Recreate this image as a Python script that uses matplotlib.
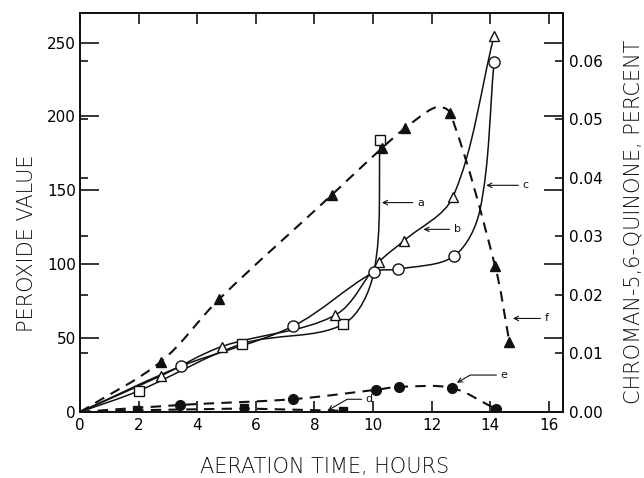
import numpy as np
import matplotlib
matplotlib.use("Agg")
import matplotlib.pyplot as plt
from matplotlib.path import Path
from matplotlib.patches import PathPatch

# ---------------- data ----------------
# peroxide value curves (left axis)
time_a = [0, 2.0, 5.54, 8.99, 10.03, 10.24]
peroxide_a = [0, 14.3, 46.2, 59.5, 95.0, 183.8]
marks_a = [1, 2, 3, 5]

time_b = [0, 2.75, 4.84, 8.70, 10.2, 11.06, 12.72, 14.13]
peroxide_b = [0, 24.4, 44.3, 65.5, 101.5, 116.0, 145.4, 254.6]
marks_b = [1, 2, 3, 4, 5, 6, 7]

time_c = [0, 3.45, 7.26, 10.03, 10.86, 12.76, 13.65, 14.13]
peroxide_c = [0, 31.0, 58.0, 94.7, 96.6, 105.5, 137.0, 237.0]
marks_c = [1, 2, 3, 4, 5, 7]

# chroman-5,6-quinone curves (right axis, percent)
time_d = [0, 1.95, 5.6, 8.96]
quinone_d = [0, 0.0003, 0.0006, 0.0002]
marks_d = [1, 2, 3]

time_e = [0, 3.41, 7.28, 10.1, 10.9, 12.69, 14.2]
quinone_e = [0, 0.0012, 0.0022, 0.0038, 0.0043, 0.0041, 0.0005]
marks_e = [1, 2, 3, 4, 5, 6]

time_f = [0, 2.76, 4.75, 8.59, 10.3, 11.09, 12.15, 12.63, 14.16, 14.65]
quinone_f = [0, 0.0086, 0.0193, 0.0371, 0.0451, 0.0485, 0.0521, 0.0511, 0.0250, 0.0120]
marks_f = [1, 2, 3, 4, 5, 7, 8, 9]

x_ticks = [0, 2, 4, 6, 8, 10, 12, 14, 16]
left_ticks = [0, 50, 100, 150, 200, 250]
right_ticks = [0.00, 0.01, 0.02, 0.03, 0.04, 0.05, 0.06]
right_labels = ["0.00", "0.01", "0.02", "0.03", "0.04", "0.05", "0.06"]

# ---------------- figure ----------------
plt.rcParams['font.family'] = ['DejaVu Sans']
fig = plt.figure(figsize=(6.44, 4.78), dpi=100)
fig.subplots_adjust(left=80/644, right=563/644, top=1-13/478, bottom=1-412/478)
ax = fig.add_subplot(111)
ax2 = ax.twinx()

ax.set_xlim(0, 16.48)
ax.set_ylim(0, 270)
ax2.set_ylim(0, 0.0682)

for a_ in (ax, ax2):
    for s in a_.spines.values():
        s.set_linewidth(1.3)
        s.set_color('#111111')


def smooth(axis, xs, ys, **kw):
    """Smooth curve through the given points (chord-length scaled cubic Hermite)."""
    pts = axis.transData.transform(np.column_stack([xs, ys]))
    n = len(pts)
    d = np.linalg.norm(np.diff(pts, axis=0), axis=1)
    tang = np.zeros_like(pts)
    for i in range(n):
        if i == 0:
            tang[i] = (pts[1] - pts[0]) / d[0]
        elif i == n - 1:
            tang[i] = (pts[-1] - pts[-2]) / d[-1]
        else:
            tang[i] = (pts[i + 1] - pts[i - 1]) / (d[i - 1] + d[i])
    verts = [pts[0]]
    codes = [Path.MOVETO]
    for i in range(n - 1):
        c1 = pts[i] + tang[i] * d[i] / 3.0
        c2 = pts[i + 1] - tang[i + 1] * d[i] / 3.0
        verts += [c1, c2, pts[i + 1]]
        codes += [Path.CURVE4] * 3
    verts = axis.transData.inverted().transform(np.array(verts))
    axis.add_patch(PathPatch(Path(verts, codes), fill=False, transform=axis.transData, **kw))


solid = dict(color='#111111', lw=1.1)
dashed = dict(color='#111111', lw=1.5, linestyle=(0, (5, 3.5)))

smooth(ax, time_a, peroxide_a, **solid)
smooth(ax, time_b, peroxide_b, **solid)
smooth(ax, time_c, peroxide_c, **solid)
smooth(ax2, time_e, quinone_e, **dashed)
smooth(ax2, time_f, quinone_f, **dashed)
ax2.plot(time_d, quinone_d, **dashed)

mk_open = dict(linestyle='none', markerfacecolor='white', markeredgecolor='#111111', markeredgewidth=1.0, zorder=5)
mk_fill = dict(linestyle='none', color='#111111', zorder=5)
ax.plot(np.array(time_a)[marks_a], np.array(peroxide_a)[marks_a], marker='s', markersize=7, **mk_open)
ax.plot(np.array(time_b)[marks_b], np.array(peroxide_b)[marks_b], marker='^', markersize=7, **mk_open)
ax.plot(np.array(time_c)[marks_c], np.array(peroxide_c)[marks_c], marker='o', markersize=8, **mk_open)
ax2.plot(np.array(time_d)[marks_d], np.array(quinone_d)[marks_d], marker='s', markersize=6, **mk_fill)
ax2.plot(np.array(time_e)[marks_e], np.array(quinone_e)[marks_e], marker='o', markersize=7, **mk_fill)
ax2.plot(np.array(time_f)[marks_f], np.array(quinone_f)[marks_f], marker='^', markersize=6.5, **mk_fill)

# ticks
ax.set_xticks(x_ticks)
ax.set_xticklabels([str(t) for t in x_ticks])
ax.tick_params(axis='x', direction='in', length=8, width=1.1, top=True, labelsize=11, pad=4)
ax.set_yticks(left_ticks)
ax.set_yticklabels([str(t) for t in left_ticks])
ax.tick_params(axis='y', direction='in', length=14, width=1.1, right=True, labelright=False, labelsize=11, pad=3)
ax2.set_yticks(right_ticks)
ax2.set_yticklabels(right_labels)
ax2.tick_params(axis='y', direction='in', length=6, width=1.1, left=True, labelleft=False, labelsize=11, pad=4)

# curve labels
ann = dict(arrowprops=dict(arrowstyle='->', lw=0.8, color='#111111', shrinkA=1, shrinkB=0),
           fontsize=8, va='center', ha='left', color='#111111')
ax.annotate('a', xy=(10.3, 141.7), xytext=(11.5, 141.7), **ann)
ax.annotate('b', xy=(11.72, 123.6), xytext=(12.75, 123.6), **ann)
ax.annotate('c', xy=(13.86, 153.4), xytext=(15.1, 153.4), **ann)
ax.annotate('f', xy=(14.77, 63.3), xytext=(15.85, 63.3), **ann)
ann2 = dict(arrowprops=dict(arrowstyle='->', lw=0.8, color='#111111', shrinkA=1, shrinkB=0,
                            connectionstyle='angle,angleA=0,angleB=30,rad=0'),
            fontsize=8, va='center', ha='left', color='#111111')
ax.annotate('e', xy=(12.86, 19.8), xytext=(14.35, 25), **ann2)
ax.annotate('d', xy=(8.45, 1.0), xytext=(9.75, 8.6), **ann2)

fig.text(27/644, 1-243/478, 'PEROXIDE VALUE', rotation=90, ha='center', va='center',
         fontsize=15, fontweight='light', color='#111111')
fig.text(325/644, 1-467/478, 'AERATION TIME, HOURS', ha='center', va='center',
         fontsize=15, fontweight='light', color='#111111')
fig.text(634/644, 1-222/478, 'CHROMAN-5,6-QUINONE, PERCENT', rotation=90, ha='center', va='center',
         fontsize=15, fontweight='light', color='#111111')

fig.savefig('out.png', dpi=100)
